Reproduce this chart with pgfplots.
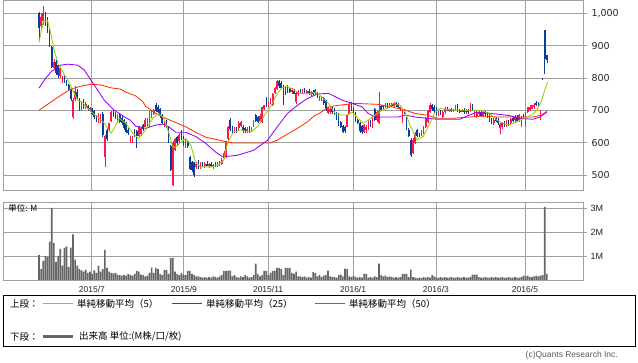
\documentclass[border=0pt]{standalone}
\usepackage{pgfplots}
\pgfplotsset{compat=1.18}
\usepackage{pgfplotstable}
\usepackage{fontspec}
\setmainfont{Liberation Sans}
\newfontfamily\dejavu{DejaVu Sans}
\newfontfamily\cjk{Noto Sans CJK JP}
\definecolor{upc}{HTML}{FF1450}
\definecolor{dnc}{HTML}{0A3C9C}
\definecolor{maf}{HTML}{99CC00}
\definecolor{mam}{HTML}{9900FF}
\definecolor{mas}{HTML}{FF3300}
\definecolor{volc}{HTML}{666666}
\definecolor{gridc}{HTML}{A0A0A0}

\pgfplotstableread{
d o h l c v
0 1000 1003 920 955 1.05
1 960 1000 955 990 0.45
2 975 1022 965 1000 0.8
3 1000 1005 960 970 1.0
4 985 990 940 950 0.95
5 945 950 895 900 1.6
6 895 898 830 835 3.0
7 830 858 825 850 1.55
8 850 855 810 815 0.75
9 840 842 800 810 1.0
10 805 835 800 830 1.3
11 790 805 785 800 0.6
12 800 808 785 790 1.35
13 790 795 775 780 1.4
14 780 782 760 765 0.55
15 765 768 730 735 1.35
16 680 740 675 733 1.9
17 735 775 730 760 0.85
18 758 765 735 740 0.6
19 738 740 700 705 0.45
20 705 730 700 725 0.4
21 730 735 705 710 0.35
22 710 725 705 720 0.42
23 715 718 700 705 0.3
24 705 712 695 708 0.35
25 705 708 685 690 0.25
26 700 703 675 680 0.4
27 680 685 665 670 0.3
28 665 692 660 688 0.6
29 670 690 662 685 0.35
30 690 695 618 625 0.45
31 557 625 525 620 1.25
32 640 645 605 612 0.5
33 640 662 638 660 0.35
34 668 698 665 695 0.3
35 698 702 680 683 0.28
36 692 695 675 678 0.3
37 668 688 662 685 0.22
38 685 688 662 665 0.2
39 678 682 655 660 0.18
40 672 675 640 645 0.2
41 662 665 630 635 0.18
42 640 645 625 632 0.25
43 605 622 600 620 0.2
44 605 620 600 615 0.18
45 640 642 618 622 0.25
46 638 640 584 620 0.38
47 622 652 618 648 0.35
48 628 650 620 645 0.22
49 655 658 638 642 0.2
50 650 676 648 672 0.15
51 655 678 650 675 0.18
52 655 698 650 695 0.3
53 680 702 678 698 0.52
54 690 705 685 702 0.3
55 718 722 695 700 0.5
56 712 716 690 695 0.45
57 705 708 678 682 0.25
58 685 690 658 660 0.2
59 652 670 648 665 0.42
60 668 672 646 650 0.42
61 650 652 600 605 0.25
62 590 595 512 518 0.92
63 470 605 467 600 0.92
64 578 616 575 612 0.35
65 618 622 595 600 0.25
66 605 630 600 625 0.2
67 632 640 610 615 0.3
68 615 620 592 598 0.22
69 588 612 584 608 0.2
70 605 610 585 590 0.38
71 558 560 515 520 0.38
72 540 545 510 515 0.25
73 540 542 495 500 0.2
74 525 540 520 535 0.15
75 540 547 520 525 0.15
76 525 540 520 535 0.12
77 535 542 525 530 0.1
78 530 540 522 536 0.12
79 536 545 528 530 0.1
80 528 538 522 535 0.12
81 535 540 525 528 0.1
82 528 536 520 533 0.15
83 533 540 526 530 0.12
84 530 542 527 538 0.1
85 538 545 530 534 0.15
86 536 552 532 548 0.2
87 552 575 550 570 0.38
88 560 605 555 600 0.38
89 612 652 610 648 0.39
90 672 676 638 642 0.39
91 645 652 630 635 0.15
92 635 650 630 646 0.2
93 646 650 630 636 0.12
94 645 668 640 662 0.1
95 652 668 648 665 0.15
96 650 655 632 638 0.12
97 645 648 632 636 0.2
98 636 648 630 644 0.15
99 648 652 632 638 0.1
100 640 650 635 646 0.12
101 650 672 648 668 0.2
102 686 690 664 668 0.68
103 680 682 660 664 0.25
104 668 690 662 684 0.15
105 666 712 662 710 0.2
106 705 718 702 716 0.38
107 738 742 712 716 0.38
108 718 730 710 726 0.2
109 725 740 720 735 0.3
110 718 755 715 752 0.38
111 754 774 750 770 0.39
112 765 795 762 790 0.5
113 792 795 770 775 0.5
114 785 792 765 770 0.45
115 778 780 716 760 0.2
116 770 775 748 765 0.5
117 775 778 755 768 0.5
118 768 770 755 758 0.5
119 758 768 750 762 0.3
120 760 765 750 752 0.25
121 725 758 720 755 0.35
122 750 762 745 758 0.15
123 758 765 750 755 0.15
124 755 766 752 762 0.12
125 762 768 752 756 0.15
126 756 764 750 760 0.1
127 760 766 748 752 0.12
128 752 760 746 757 0.1
129 757 762 748 750 0.33
130 762 765 750 753 0.3
131 752 758 740 745 0.15
132 735 744 730 740 0.2
133 733 745 730 741 0.12
134 738 742 718 722 0.18
135 730 734 700 704 0.2
136 692 712 688 710 0.39
137 695 712 690 705 0.15
138 705 710 690 695 0.12
139 704 708 685 688 0.12
140 692 696 672 676 0.1
141 690 692 652 655 0.2
142 665 668 645 650 0.22
143 652 656 630 635 0.15
144 648 652 630 638 0.47
145 650 688 648 685 0.45
146 690 724 688 720 0.15
147 722 725 700 705 0.12
148 705 710 688 692 0.18
149 692 695 665 668 0.12
150 672 675 658 662 0.1
151 660 664 632 636 0.12
152 652 655 628 635 0.1
153 635 658 632 655 0.25
154 640 655 632 650 0.25
155 660 672 640 668 0.1
156 668 672 648 652 0.12
157 650 682 645 678 0.1
158 705 708 668 672 0.15
159 672 700 665 695 0.12
160 662 758 658 700 0.68
161 715 718 698 702 0.2
162 714 718 705 712 0.15
163 710 722 708 718 0.18
164 718 724 708 712 0.12
165 712 722 708 720 0.15
166 720 723 710 714 0.12
167 715 725 712 722 0.1
168 722 726 712 716 0.12
169 718 722 708 712 0.1
170 705 712 700 710 0.12
171 692 708 660 705 0.26
172 700 704 688 692 0.26
173 676 680 640 645 0.26
174 640 645 618 622 0.12
175 610 614 556 562 0.43
176 570 615 566 610 0.12
177 600 635 596 630 0.1
178 640 642 618 622 0.08
179 628 632 618 624 0.1
180 624 640 620 636 0.08
181 632 652 628 648 0.12
182 650 680 646 676 0.1
183 665 702 660 698 0.12
184 695 722 692 718 0.1
185 716 720 700 704 0.2
186 712 716 692 698 0.15
187 704 712 686 690 0.1
188 690 700 684 696 0.1
189 700 703 686 690 0.12
190 680 698 676 694 0.1
191 694 710 690 706 0.12
192 706 712 698 702 0.1
193 698 706 694 704 0.1
194 704 708 696 700 0.12
195 700 706 694 702 0.1
196 702 718 698 714 0.1
197 714 720 696 700 0.12
198 700 706 692 698 0.1
199 698 706 694 702 0.1
200 702 708 690 694 0.12
201 694 704 690 700 0.1
202 700 704 690 694 0.1
203 696 722 694 718 0.12
204 716 720 698 702 0.22
205 686 700 682 696 0.22
206 682 698 678 694 0.22
207 690 700 684 696 0.12
208 696 700 680 684 0.1
209 684 698 680 694 0.1
210 694 698 682 688 0.12
211 690 694 676 680 0.1
212 684 688 666 670 0.1
213 672 676 658 664 0.12
214 660 678 656 672 0.1
215 676 680 665 668 0.12
216 672 676 655 660 0.1
217 645 662 628 658 0.1
218 648 664 642 660 0.12
219 664 668 648 652 0.1
220 654 670 650 666 0.1
221 668 672 652 656 0.12
222 660 678 656 674 0.1
223 676 682 664 668 0.1
224 672 685 660 680 0.12
225 680 686 664 668 0.1
226 672 690 666 686 0.1
227 660 682 650 678 0.12
228 684 690 674 680 0.18
229 672 695 648 690 0.15
230 696 712 692 710 0.18
231 702 716 700 712 0.12
232 706 718 704 716 0.12
233 712 722 706 718 0.15
234 724 728 714 716 0.18
235 725 727 712 716 0.15
236 676 702 670 698 0.18
237 799 799 795 795 0.2
238 948 948 812 860 3.05
239 870 872 848 855 0.25
}\data

\pgfplotsset{
  cbody/.style={draw=none, mark=none, forget plot,
    error bars/y dir=both, error bars/y explicit, error bars/error mark=none,
    error bars/error bar style={draw=#1, line width=1.6pt}},
  cwick/.style={draw=none, mark=none, forget plot,
    error bars/y dir=both, error bars/y explicit, error bars/error mark=none,
    error bars/error bar style={draw=#1, line width=0.65pt}},
  common/.style={scale only axis, width=580pt,
    xmin=-16.94, xmax=256,
    xtick={24.9,68.2,107.8,147.8,186.8,228.7},
    grid=major, grid style={gridc, line width=0.9pt},
    axis line style={gridc, line width=0.9pt},
    xtick style={draw=none},
    ytick pos=right, yticklabel pos=right,
    ytick style={gridc, line width=0.9pt},
    tick align=outside, major tick length=4pt,
    clip=true},
}

\begin{document}
\begin{tikzpicture}
\useasboundingbox (0pt,0pt) rectangle (638pt,362pt);

% upper panel
\begin{axis}[common, at={(3pt,171.3pt)}, anchor=south west, height=190.2pt,
  ymin=452.6, ymax=1039.5,
  ytick={500,600,700,800,900,1000},
  yticklabels={500,600,700,800,900,{1,000}},
  xticklabels={},
  yticklabel style={font=\dejavu\fontsize{9.5}{10}\selectfont, text=black!85, xshift=1pt},
]
\addplot[cwick=upc, restrict expr to domain={\thisrow{c}-\thisrow{o}}{0:2000}]
  table[x=d, y expr={0.5*(\thisrow{h}+\thisrow{l})}, y error expr={0.5*(\thisrow{h}-\thisrow{l})}] {\data};
\addplot[cwick=dnc, restrict expr to domain={\thisrow{o}-\thisrow{c}}{0.01:2000}]
  table[x=d, y expr={0.5*(\thisrow{h}+\thisrow{l})}, y error expr={0.5*(\thisrow{h}-\thisrow{l})}] {\data};
\addplot[cbody=upc, restrict expr to domain={\thisrow{c}-\thisrow{o}}{0:2000}]
  table[x=d, y expr={0.5*(\thisrow{o}+\thisrow{c})}, y error expr={0.5*abs(\thisrow{c}-\thisrow{o})}] {\data};
\addplot[cbody=dnc, restrict expr to domain={\thisrow{o}-\thisrow{c}}{0.01:2000}]
  table[x=d, y expr={0.5*(\thisrow{o}+\thisrow{c})}, y error expr={0.5*abs(\thisrow{c}-\thisrow{o})}] {\data};

% 50-day MA
\addplot[mas, line width=0.85pt, mark=none] coordinates {
(0,701) (5.6,726) (10.3,747) (15,766) (19.7,775) (24.4,781) (29.1,779) (33.8,770)
(38.5,766) (40.8,757) (45.5,745) (48.8,728) (50.2,713) (54.9,691) (59.6,676)
(64.3,663) (69,650) (73.7,633) (78.4,618) (83.1,611) (87.8,604) (90.6,600)
(108.9,600) (112.2,609) (116.9,627) (121.6,645) (126.3,665) (129.6,684) (132.4,693)
(136.2,711) (140.8,716) (148.8,722) (159.6,719) (166.2,711) (172.3,701) (177,691)
(182.6,686) (187.3,676) (194.8,676) (202.8,680) (208.9,683) (215.5,680) (232.4,680)
(236.6,686) (239,698)};
% 25-day MA
\addplot[mam, line width=0.85pt, mark=none] coordinates {
(0,769) (2.5,794) (5.6,819) (10.3,840) (13.5,843) (18.2,840) (21.3,825) (24.4,794)
(27.6,763) (30.7,732) (35.4,701) (38.5,688) (40.8,678) (43,670) (45.5,652)
(50.2,645) (54.9,655) (58.2,658) (61,650) (64.3,633) (69,633) (73.7,620) (78.4,599)
(83.1,572) (86.4,557) (93.4,562) (100.9,577) (107.5,608) (112.2,650) (116.9,691)
(121.6,716) (126.3,737) (131,751) (136.2,753) (142.7,732) (147.4,722) (152.1,711)
(154.9,691) (158.2,680) (169,680) (172.3,686) (177,680) (187.3,673) (198.1,673)
(201.4,683) (206.1,695) (212.2,691) (216.9,688) (221.6,684) (226.3,676)
(232.4,673) (235.7,680) (239,695)};
% 5-day MA
\addplot[maf, line width=0.85pt, mark=none] coordinates {
(0,910) (2,975) (4,978) (5.5,940) (7,890) (9,845) (12,810) (13.5,795) (15.8,763)
(18.2,732) (20.5,725) (22.9,707) (25.2,692) (27.6,680) (30.7,661) (33.8,630)
(35.4,645) (37.7,676) (40.8,661) (44.1,630) (46.9,614) (50.2,640) (53.5,676)
(56.3,691) (58.7,676) (61,633) (62.9,587) (64.3,587) (66.7,602) (69,614)
(71.4,593) (73.7,541) (76,526) (81.7,526) (84.5,532) (86.9,547) (88.7,600)
(91.5,633) (94.8,640) (99.5,633) (102.8,650) (105.6,680) (108.9,711) (112.2,753)
(114.6,772) (116.9,775) (119.7,763) (123,753) (127.7,753) (130,757) (133.3,741)
(136.2,722) (139.4,691) (141.8,686) (145.1,686) (147.4,695) (150.2,676)
(152.6,661) (154.9,670) (158.2,686) (161.5,701) (163.8,706) (166.7,722) (170,716)
(172.3,695) (174.6,655) (177.9,610) (180.8,620) (184,661) (186.4,695) (188.7,706)
(194.8,701) (201.4,701) (207.5,701) (212.2,691) (215.5,670) (220.2,655) (223,660)
(226.3,670) (229.6,680) (231.9,686) (234.3,701) (236.6,732) (238,763) (239.4,788)};
\end{axis}

% volume panel
\begin{axis}[common, at={(3pt,82pt)}, anchor=south west, height=78pt,
  ymin=0, ymax=3.25,
  ytick={1,2,3}, yticklabels={1M,2M,3M},
  xticklabels={2015/7,2015/9,2015/11,2016/1,2016/3,2016/5},
  yticklabel style={font=\fontsize{9}{10}\selectfont, text=black!85},
  xticklabel style={font=\fontsize{8.5}{10}\selectfont, text=black!85, yshift=1pt},
]
\addplot[ybar, bar width=1.7pt, fill=volc, draw=none, mark=none] table[x=d, y=v] {\data};
\node[anchor=west, inner sep=0pt, font=\cjk\fontsize{8.5}{9}\selectfont] at (rel axis cs:0.009,0.92) {単位: M};
\end{axis}

% legend box
\draw[black, line width=0.8pt] (3pt,15.5pt) rectangle (635pt,67pt);
\fill[fill=maf] (43pt,57.7pt) rectangle (73pt,59.3pt);
\fill[fill=mam] (172pt,57.7pt) rectangle (202pt,59.3pt);
\fill[fill=mas] (315pt,57.7pt) rectangle (345pt,59.3pt);
\fill[fill=volc] (43pt,24pt) rectangle (73pt,27pt);
\begin{scope}[every node/.style={anchor=west, inner sep=0pt, font=\cjk\fontsize{9.5}{11}\selectfont}]
\node at (10pt,58.5pt) {上段：};
\node at (77pt,58.5pt) {単純移動平均（5）};
\node at (206pt,58.5pt) {単純移動平均（25）};
\node at (349pt,58.5pt) {単純移動平均（50）};
\node at (10pt,25.5pt) {下段：};
\node at (79pt,25.5pt) {出来高 単位:(M株/口/枚)};
\end{scope}
\node[anchor=east, inner sep=0pt, text=black!65, font=\fontsize{8.5}{10}\selectfont] at (618pt,6.5pt) {(c)Quants Research Inc.};
\end{tikzpicture}
\end{document}
